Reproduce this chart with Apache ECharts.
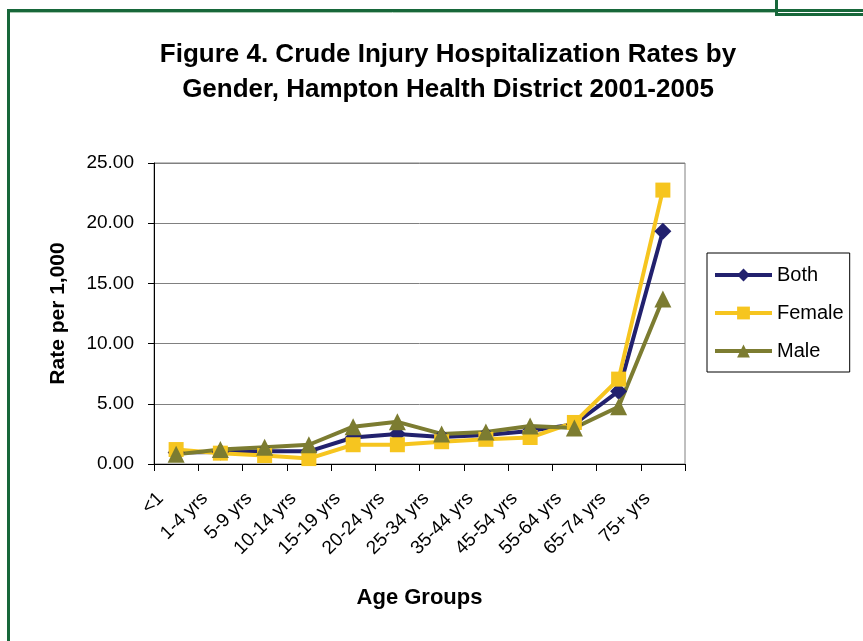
<!DOCTYPE html>
<html>
<head>
<meta charset="utf-8">
<script src="https://cdn.jsdelivr.net/npm/echarts@6/dist/echarts.min.js"></script>
<style>
  html, body { margin: 0; padding: 0; background: #fff; }
  #chart { width: 863px; height: 641px; }
</style>
</head>
<body>
<div id="chart"></div>
<script>
// age group categories and rates per 1,000
const ageGroups = ["<1", "1-4 yrs", "5-9 yrs", "10-14 yrs", "15-19 yrs", "20-24 yrs",
  "25-34 yrs", "35-44 yrs", "45-54 yrs", "55-64 yrs", "65-74 yrs", "75+ yrs"];
const bothRates = [0.95, 1.0, 1.05, 1.05, 2.2, 2.5, 2.25, 2.4, 2.75, 3.3, 6.05, 19.33];
const femaleRates = [1.2, 0.9, 0.7, 0.45, 1.6, 1.6, 1.85, 2.05, 2.2, 3.45, 7.05, 22.75];
const maleRates = [0.8, 1.2, 1.4, 1.6, 3.1, 3.5, 2.5, 2.65, 3.15, 3.0, 4.75, 13.7];
const yTicks = [0, 5, 10, 15, 20, 25];

const green = "#17673a";
const font = "Liberation Sans, Arial, sans-serif";

const chart = echarts.init(document.getElementById("chart"), null, { renderer: "canvas" });

function lineSeries(name, data, symbol, size, color) {
  return {
    name,
    type: "line",
    data,
    symbol,
    symbolSize: size,
    showAllSymbol: true,
    lineStyle: { width: 4, color },
    itemStyle: { color },
    emphasis: { disabled: true },
  };
}

chart.setOption({
  animation: false,
  textStyle: { fontFamily: font },
  title: {
    text: "Figure 4. Crude Injury Hospitalization Rates by\nGender, Hampton Health District 2001-2005",
    left: 443,
    textAlign: "center",
    top: 32,
    textStyle: { fontSize: 26, fontWeight: "bold", color: "#000", lineHeight: 35, fontFamily: font },
  },
  legend: {
    orient: "vertical",
    left: 707,
    top: 253,
    padding: [12, 6, 11, 6],
    itemGap: 18,
    itemWidth: 57,
    itemHeight: 16,
    borderColor: "#000",
    borderWidth: 1,
    lineStyle: { width: 4 },
    textStyle: { fontSize: 20, color: "#000", fontFamily: font },
    data: ["Both", "Female", "Male"],
  },
  grid: {
    left: 154,
    right: 178,
    top: 163,
    bottom: 177,
    show: true,
    borderColor: "#808080",
    borderWidth: 1,
    containLabel: false,
  },
  xAxis: {
    type: "category",
    data: ageGroups,
    boundaryGap: true,
    name: "Age Groups",
    nameLocation: "middle",
    nameGap: 123,
    nameTextStyle: { fontSize: 22, fontWeight: "bold", color: "#000", fontFamily: font },
    axisLine: { lineStyle: { color: "#000", width: 1 } },
    axisTick: { show: true, interval: 0, length: 7, lineStyle: { color: "#000" } },
    axisLabel: { interval: 0, rotate: 45, fontSize: 19, color: "#000", margin: 16,
      padding: [0, 22, 0, 0], fontFamily: font },
    splitLine: { show: false },
  },
  yAxis: {
    type: "value",
    min: yTicks[0],
    max: yTicks[yTicks.length - 1],
    interval: 5,
    name: "Rate per 1,000",
    nameLocation: "middle",
    nameGap: 85,
    nameTextStyle: { fontSize: 21, fontWeight: "bold", color: "#000", fontFamily: font },
    axisLine: { show: true, lineStyle: { color: "#000", width: 1 } },
    axisTick: { show: true, length: 6, lineStyle: { color: "#000" } },
    axisLabel: { fontSize: 19, color: "#000", margin: 20, fontFamily: font,
      formatter: (v) => v.toFixed(2) },
    splitLine: { lineStyle: { color: "#808080", width: 1 } },
  },
  series: [
    lineSeries("Both", bothRates, "diamond", 17, "#22216e"),
    lineSeries("Female", femaleRates, "rect", 15, "#f6c51f"),
    lineSeries("Male", maleRates, "triangle", 17, "#7c7c31"),
  ],
  graphic: [
    // page frame lines
    { type: "line", shape: { x1: 7, y1: 10.5, x2: 863, y2: 10.5 }, style: { stroke: green, lineWidth: 3 }, silent: true },
    { type: "line", shape: { x1: 8.5, y1: 9, x2: 8.5, y2: 641 }, style: { stroke: green, lineWidth: 3 }, silent: true },
    { type: "line", shape: { x1: 10, y1: 12.5, x2: 775, y2: 12.5 }, style: { stroke: "#a8c8b0", lineWidth: 1 }, silent: true },
    { type: "line", shape: { x1: 776.5, y1: 0, x2: 776.5, y2: 16 }, style: { stroke: green, lineWidth: 3 }, silent: true },
    { type: "line", shape: { x1: 775, y1: 14.5, x2: 863, y2: 14.5 }, style: { stroke: green, lineWidth: 3 }, silent: true },
  ],
});
</script>
</body>
</html>
